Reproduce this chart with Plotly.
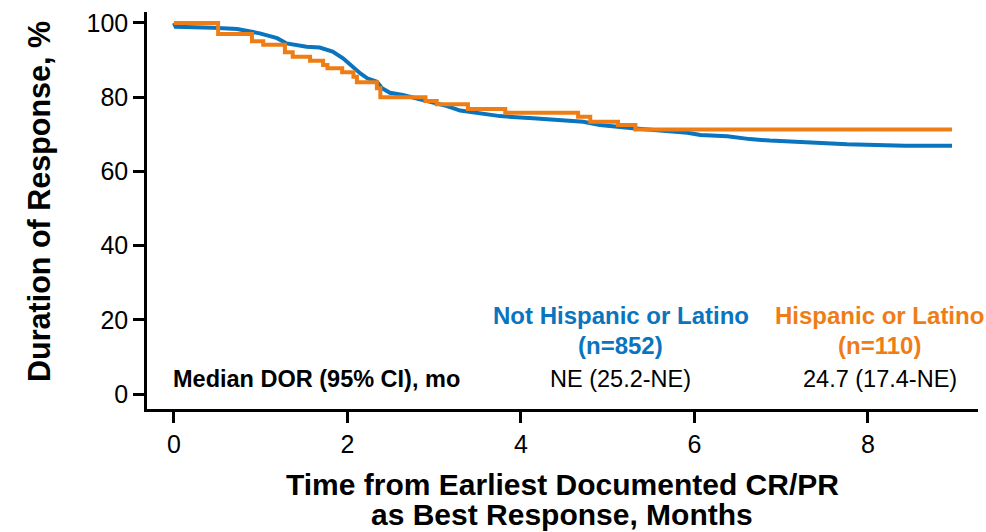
import plotly.graph_objects as go

# Kaplan-Meier estimates (months, % in response)
blue_t = [0, 0.02, 0.45, 0.73, 0.99, 1.19, 1.30, 1.53, 1.68, 1.83, 1.95, 2.06, 2.15, 2.23,
          2.34, 2.40, 2.49, 2.64, 2.84, 3.03, 3.15, 3.30, 3.49, 3.76, 4.14, 4.72, 4.91,
          5.29, 5.92, 6.07, 6.38, 6.64, 6.87, 7.22, 7.37, 7.76, 8.43, 8.97]
blue_s = [100, 99.0, 98.7, 98.4, 97.2, 95.9, 94.5, 93.6, 93.4, 92.3, 90.5, 88.2, 86.4, 85.1,
          84.2, 82.4, 81.2, 80.6, 79.4, 78.1, 77.6, 76.4, 75.7, 74.9, 74.3, 73.4, 72.5,
          71.6, 70.4, 69.8, 69.5, 68.7, 68.3, 67.8, 67.6, 67.3, 66.9, 66.9]

orange_t = [0, 0.51, 0.90, 1.03, 1.28, 1.37, 1.57, 1.72, 1.77, 1.94, 2.07, 2.11, 2.34, 2.38,
            2.90, 3.03, 3.39, 3.82, 4.66, 4.80, 5.12, 5.32, 8.97]
orange_s = [100, 97.0, 95.1, 94.1, 92.1, 90.9, 89.8, 88.7, 87.8, 86.7, 85.5, 84.0, 82.4, 80.0,
            79.0, 78.1, 76.8, 75.8, 74.7, 73.4, 72.5, 71.3, 71.3]

group_names = ["Not Hispanic or Latino", "Hispanic or Latino"]
group_n = ["(n=852)", "(n=110)"]
group_median = ["NE (25.2-NE)", "24.7 (17.4-NE)"]
group_label_x = [5.15, 8.14]
x_ticks = [0, 2, 4, 6, 8]
y_ticks = [0, 20, 40, 60, 80, 100]

BLUE = "#0A74BE"
ORANGE = "#EF7D16"
FONT = "Liberation Sans, Arial, sans-serif"

fig = go.Figure()
fig.add_trace(go.Scatter(x=blue_t, y=blue_s, mode="lines", line=dict(color=BLUE, width=4, shape="linear"),
                         name=group_names[0], showlegend=False))
fig.add_trace(go.Scatter(x=orange_t, y=orange_s, mode="lines", line=dict(color=ORANGE, width=4, shape="hv"),
                         name=group_names[1], showlegend=False))

axis_common = dict(showline=True, linecolor="black", linewidth=2.5, ticks="outside", ticklen=11,
                   tickwidth=2.5, tickcolor="black", showgrid=False, zeroline=False,
                   tickfont=dict(family=FONT, size=25, color="black"))
fig.update_xaxes(range=[-0.31, 9.27], tickvals=x_ticks, **axis_common)
fig.update_yaxes(range=[-4.04, 102.96], tickvals=y_ticks, **axis_common)

ann = []
# axis titles
ann.append(dict(text="<b>Duration of Response, %</b>", xref="paper", yref="paper", x=-0.1288, y=0.524,
                textangle=-90, showarrow=False, xanchor="center", yanchor="middle",
                font=dict(family=FONT, size=30.5, color="black")))
ann.append(dict(text="<b>Time from Earliest Documented CR/PR</b>", xref="paper", yref="paper",
                x=0.4994, y=-0.1914, showarrow=False, xanchor="center", yanchor="middle",
                font=dict(family=FONT, size=30, color="black")))
ann.append(dict(text="<b>as Best Response, Months</b>", xref="paper", yref="paper",
                x=0.4994, y=-0.2670, showarrow=False, xanchor="center", yanchor="middle",
                font=dict(family=FONT, size=30, color="black")))
# median row label
ann.append(dict(text="<b>Median DOR (95% CI), mo</b>", xref="x", yref="paper", x=-0.03, y=0.0756,
                showarrow=False, xanchor="left", yanchor="middle",
                font=dict(family=FONT, size=23.5, color="black")))
for i, col in enumerate([BLUE, ORANGE]):
    ann.append(dict(text=f"<b>{group_names[i]}</b>", xref="x", yref="paper", x=group_label_x[i], y=0.2343,
                    showarrow=False, xanchor="center", yanchor="middle",
                    font=dict(family=FONT, size=24, color=col)))
    ann.append(dict(text=f"<b>{group_n[i]}</b>", xref="x", yref="paper", x=group_label_x[i], y=0.1587,
                    showarrow=False, xanchor="center", yanchor="middle",
                    font=dict(family=FONT, size=24, color=col)))
    ann.append(dict(text=group_median[i], xref="x", yref="paper", x=group_label_x[i], y=0.0756,
                    showarrow=False, xanchor="center", yanchor="middle",
                    font=dict(family=FONT, size=23.5, color="black")))

fig.update_layout(width=986, height=532, margin=dict(l=147, r=8, t=12, b=123),
                  plot_bgcolor="white", paper_bgcolor="white", annotations=ann,
                  font=dict(family=FONT))

fig.write_html("out.html")
